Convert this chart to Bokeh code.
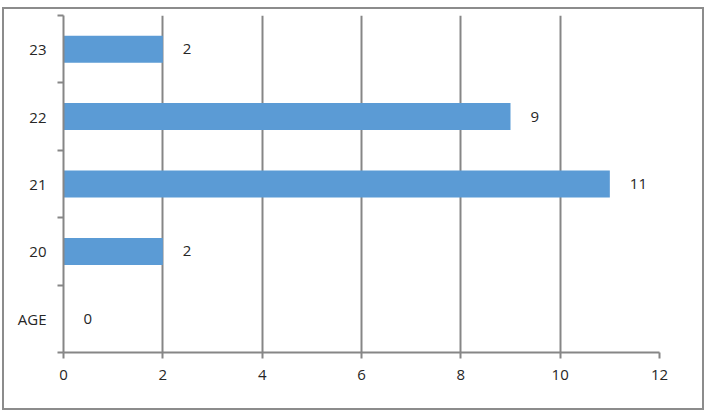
from bokeh.plotting import figure
from bokeh.models import (ColumnDataSource, FactorRange, Range1d, LinearAxis, CategoricalAxis,
                          FixedTicker, LabelSet)
from bokeh.core.properties import value
from bokeh.embed import file_html
from bokeh.resources import INLINE

categories = ["AGE", "20", "21", "22", "23"]
counts = [0, 2, 11, 9, 2]
x_ticks = [0, 2, 4, 6, 8, 10, 12]

src = ColumnDataSource(dict(cat=categories, val=counts, txt=[str(v) for v in counts]))

GRAY = "#868686"
FONT = "Open Sans"
TXT = "#262626"
FS = "15px"

p = figure(y_range=FactorRange(factors=categories), x_range=Range1d(0, 12),
           frame_width=596, frame_height=337, min_border_left=59, min_border_right=43,
           min_border_top=6, min_border_bottom=56,
           output_backend="svg", toolbar_location=None, y_axis_location=None,
           x_axis_location=None)
p.styles = {"border": "2px solid #8c8c8c", "margin-left": "2px", "margin-top": "7px"}
p.outline_line_color = None
p.background_fill_color = "white"
p.border_fill_color = "white"

p.hbar(y="cat", right="val", left=0, height=0.4, source=src, color="#5B9BD5", line_color=None)

# x axis
xa = LinearAxis(ticker=FixedTicker(ticks=x_ticks))
xa.axis_line_color = GRAY
xa.axis_line_width = 2
xa.major_tick_line_color = GRAY
xa.major_tick_line_width = 2
xa.major_tick_out = 6
xa.major_tick_in = 0
xa.minor_tick_line_color = None
xa.major_label_text_font = FONT
xa.major_label_text_font_size = FS
xa.major_label_text_color = TXT
xa.major_label_standoff = 11
p.add_layout(xa, "below")

# y tick-mark axis (ticks between categories, in synthetic coordinates)
edge_ticks = list(range(len(categories) + 1))
ya_ticks = LinearAxis(ticker=FixedTicker(ticks=edge_ticks))
ya_ticks.axis_line_color = GRAY
ya_ticks.axis_line_width = 2
ya_ticks.major_tick_line_color = GRAY
ya_ticks.major_tick_line_width = 2
ya_ticks.major_tick_out = 6
ya_ticks.major_tick_in = 0
ya_ticks.minor_tick_line_color = None
ya_ticks.major_label_overrides = {t: "" for t in edge_ticks}
ya_ticks.major_label_text_font_size = "1px"
ya_ticks.major_label_text_color = None
ya_ticks.major_label_standoff = 0
p.add_layout(ya_ticks, "left")

# y category labels
ya = CategoricalAxis()
ya.axis_line_color = None
ya.major_tick_line_color = None
ya.major_tick_out = 0
ya.major_tick_in = 0
ya.major_label_text_font = FONT
ya.major_label_text_font_size = FS
ya.major_label_text_color = TXT
ya.major_label_standoff = 11
p.add_layout(ya, "left")

p.xgrid.ticker = FixedTicker(ticks=x_ticks)
p.xgrid.grid_line_color = GRAY
p.xgrid.grid_line_width = 2
p.ygrid.grid_line_color = None

labels = LabelSet(x="val", y="cat", text="txt", source=src, x_offset=20,
                  text_align="left", text_baseline="middle",
                  text_font=value(FONT), text_font_size=value(FS), text_color=TXT)
p.add_layout(labels)

open("out.html", "w").write(file_html(p, INLINE))
